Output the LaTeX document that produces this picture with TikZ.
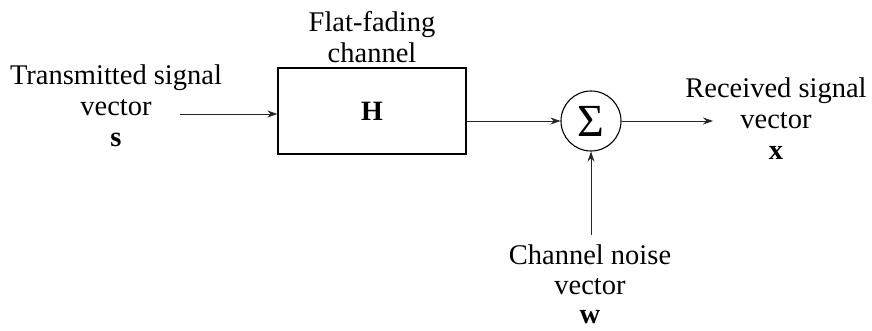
\documentclass[tikz,border=0pt]{standalone}
\usepackage{fontspec}
\setmainfont{Liberation Serif}
\usetikzlibrary{arrows.meta}
\begin{document}
\begin{tikzpicture}[x=1pt,y=-1pt,
  lbl/.style={align=center,inner sep=0pt,font=\fontsize{28.5}{31}\selectfont},
  blockbox/.style={draw,line width=1.3pt,minimum width=188pt,minimum height=86pt,inner sep=0pt},
  sumnode/.style={draw,circle,line width=1.1pt,minimum size=60pt,inner sep=0pt},
  sig/.style={draw=black!85,line width=0.9pt,-{Stealth[length=10pt,width=7pt]}}]
\useasboundingbox (0,0) rectangle (872,330);

% labels
\node[lbl] (tx) at (116,106) {Transmitted signal\\vector\\\textbf{s}};
\node[lbl] (title) at (372,37) {Flat-fading\\channel};
\node[lbl] (rx) at (776,119) {Received signal\\vector\\\textbf{x}};
\node[lbl] (noise) at (590,284) {Channel noise\\[-1pt]vector\\[-2pt]\textbf{w}};

% channel block and summing junction
\node[blockbox] (box) at (372,111) {\fontsize{28}{31}\selectfont\textbf{H}};
\node[sumnode] (sum) at (591,121) {\fontsize{46}{46}\selectfont Σ};

% free ends of the connectors
\coordinate (tin) at (180,114);
\coordinate (rout) at (713,121);
\coordinate (win) at (591,235);

% connectors
\draw[sig] (tin) -- (tin -| box.west);
\draw[sig] (sum.west -| box.east) -- (sum.west);
\draw[sig] (sum.east) -- (rout);
\draw[sig] (win) -- (sum.south);
\end{tikzpicture}
\end{document}
